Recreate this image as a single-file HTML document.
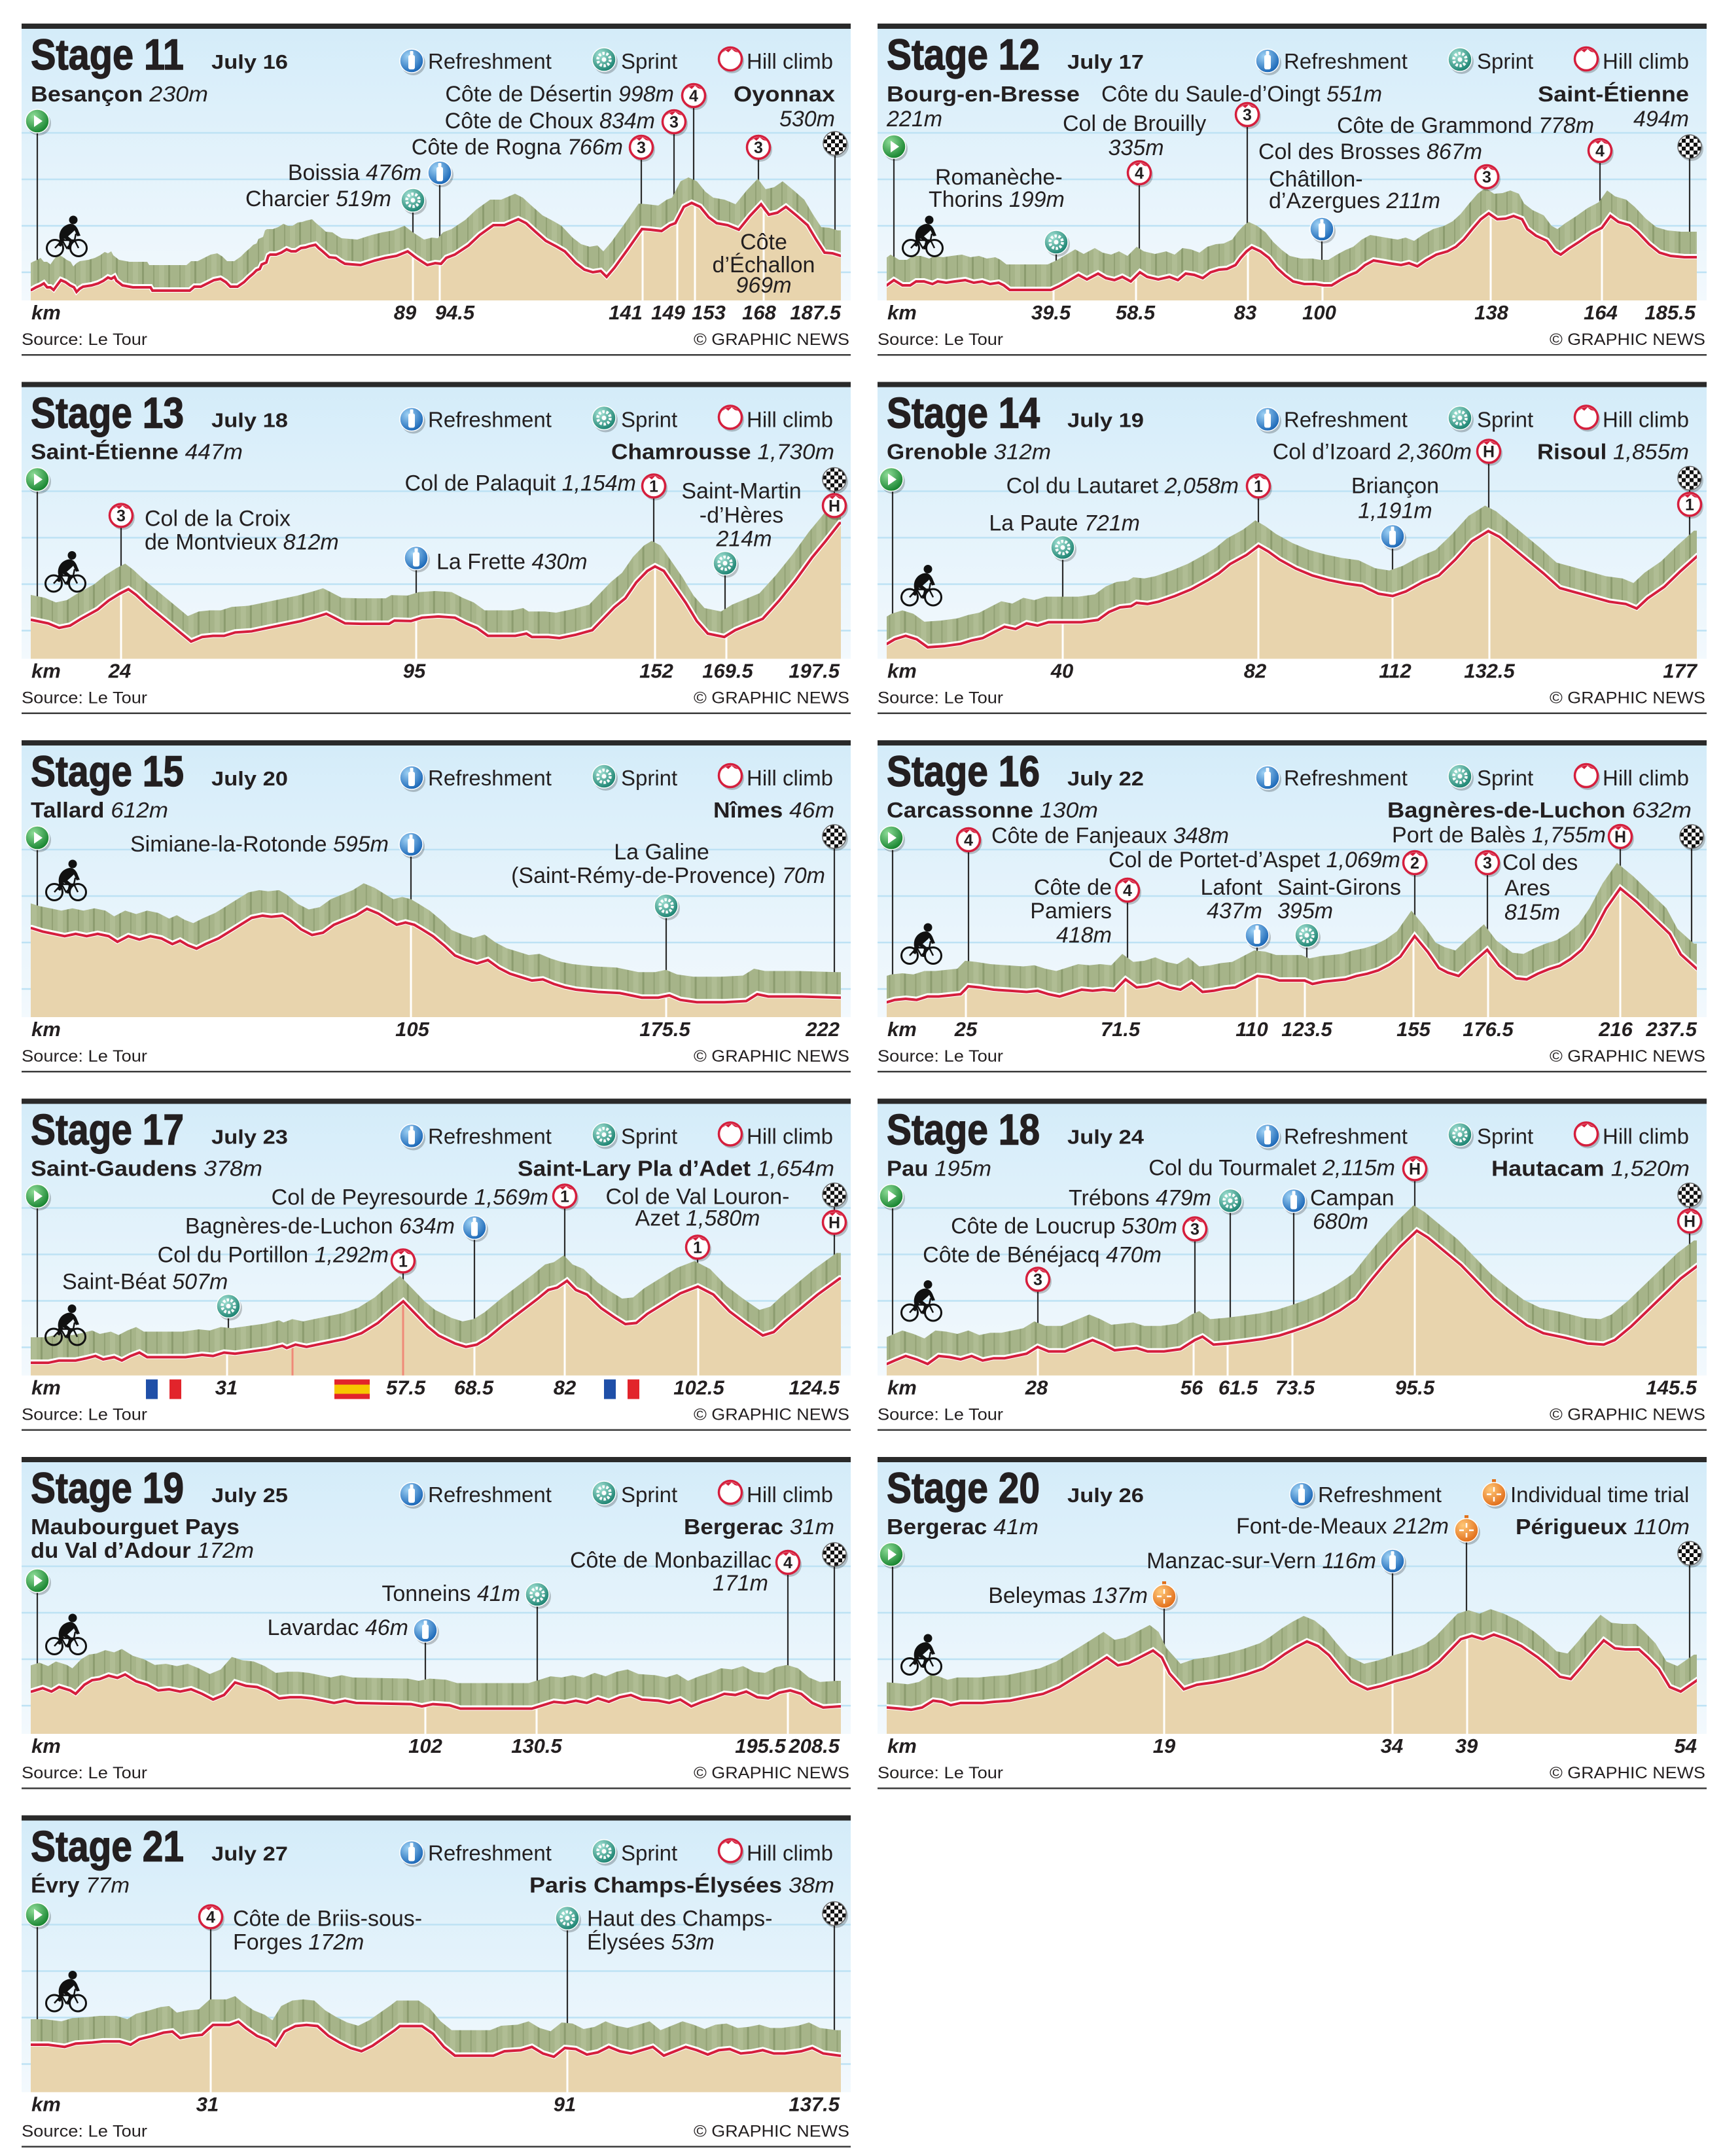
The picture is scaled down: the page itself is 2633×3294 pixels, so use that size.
<!DOCTYPE html>
<html><head><meta charset="utf-8"><title>Tour de France stages 11-21</title>
<style>
html,body{margin:0;padding:0;background:#fff;}
svg{display:block;}
text{font-family:"Liberation Sans",Arial,Helvetica,sans-serif;fill:#231f20;}
.tt{font-size:66px;font-weight:bold;stroke:#231f20;stroke-width:1.4px;}
.dt{font-size:31px;font-weight:bold;}
.lg{font-size:33px;}
.lb{font-size:34px;}
.st{font-size:33px;}
.b{font-weight:bold;}
.i{font-style:italic;}
.k{font-size:31px;font-weight:bold;font-style:italic;}
.s{font-size:25px;}
.nm{font-size:25px;font-weight:bold;text-anchor:middle;}
.e{text-anchor:end;}
.c{text-anchor:middle;}
.dl line{stroke:#2b2b2b;stroke-width:2.2px;}
.wl line{stroke:#fff;stroke-width:3px;}
.pl line{stroke:#ef8a78;stroke-width:3px;}
.ws{fill:none;stroke:#fff;stroke-width:8px;}
.rs{fill:none;stroke:#d51f3d;stroke-width:4px;}
.tan{fill:#e8d4ad;}
</style></head>
<body>
<svg xmlns="http://www.w3.org/2000/svg" xmlns:xlink="http://www.w3.org/1999/xlink" width="2633" height="3294" viewBox="0 0 2633 3294">
<defs>
<linearGradient id="bgG" x1="0" y1="0" x2="0" y2="1"><stop offset="0" stop-color="#d4ecf9"/><stop offset="1" stop-color="#f3f9fd"/></linearGradient>
<radialGradient id="gBlue" cx="35%" cy="30%" r="75%"><stop offset="0" stop-color="#9fd2f5"/><stop offset="1" stop-color="#1462b4"/></radialGradient>
<radialGradient id="gGreen" cx="35%" cy="30%" r="75%"><stop offset="0" stop-color="#8fdc98"/><stop offset="1" stop-color="#11802a"/></radialGradient>
<radialGradient id="gTeal" cx="35%" cy="30%" r="75%"><stop offset="0" stop-color="#a6e3d6"/><stop offset="1" stop-color="#167f6d"/></radialGradient>
<radialGradient id="gOr" cx="35%" cy="30%" r="75%"><stop offset="0" stop-color="#ffc878"/><stop offset="1" stop-color="#e06a16"/></radialGradient>
<pattern id="chk" width="12" height="12" patternUnits="userSpaceOnUse"><rect width="12" height="12" fill="#fff"/><rect width="6" height="6" fill="#111"/><rect x="6" y="6" width="6" height="6" fill="#111"/></pattern>
<pattern id="gp" width="40" height="60" patternUnits="userSpaceOnUse">
<rect width="40" height="60" fill="#a6b489"/><rect x="6" width="2" height="60" fill="#93a276"/><rect x="15" width="8" height="60" fill="#b0bd94"/><rect x="29" width="3" height="60" fill="#8c9c6f"/>
</pattern>
<pattern id="gp2" width="40" height="60" patternUnits="userSpaceOnUse" patternTransform="scale(0.595,1)">
<rect width="40" height="60" fill="#a6b489"/><rect x="6" width="2" height="60" fill="#93a276"/><rect x="15" width="8" height="60" fill="#b0bd94"/><rect x="29" width="3" height="60" fill="#8c9c6f"/>
</pattern>
<clipPath id="ct"><rect x="14" y="0" width="1238" height="423"/></clipPath>

<g id="chrome">
<rect x="0" y="8" width="1267" height="415" fill="url(#bgG)"/>
<rect x="0" y="0" width="1267" height="8" fill="#2a2a2a"/>
<g stroke="#bde2f4" stroke-width="2.5"><line x1="0" x2="1267" y1="167" y2="167"/><line x1="0" x2="1267" y1="238" y2="238"/><line x1="0" x2="1267" y1="309" y2="309"/><line x1="0" x2="1267" y1="380" y2="380"/></g>
<rect x="0" y="505" width="1267" height="2.5" fill="#3c3c3c"/>
</g>

<g id="ir"><circle cx="2.5" cy="3.5" r="18.5" fill="#000" opacity=".22"/><circle r="18" fill="url(#gBlue)" stroke="#fff" stroke-width="1.5"/><rect x="-5" y="-9" width="10" height="22" rx="3" fill="#fff"/><rect x="-2.5" y="-15" width="5" height="6" rx="1" fill="#fff"/></g>
<g id="is"><circle cx="2.5" cy="3.5" r="18.5" fill="#000" opacity=".22"/><circle r="18" fill="url(#gTeal)" stroke="#fff" stroke-width="1.5"/><circle r="9.5" fill="none" stroke="#fff" stroke-width="4.5" stroke-dasharray="3.5 2.5"/><circle r="3.5" fill="#fff"/></g>
<g id="ih"><circle cx="2.5" cy="3.5" r="18.5" fill="#000" opacity=".22"/><circle r="17.5" fill="#fff" stroke="#d51f3d" stroke-width="3.5"/><path d="M-12,-9.8 L-7,-13 L-3,-10 L2,-15 L7,-11 L12,-9.8 A15.5,15.5 0 0 0 -12,-9.8 Z" fill="#d51f3d"/></g>
<g id="ist"><circle cx="2.5" cy="3.5" r="18.5" fill="#000" opacity=".22"/><circle r="18" fill="url(#gGreen)" stroke="#fff" stroke-width="1.5"/><path d="M-5,-9 L8,0 L-5,9 Z" fill="#fff"/></g>
<g id="ifi"><circle cx="2.5" cy="3.5" r="18.5" fill="#000" opacity=".22"/><circle r="18" fill="url(#chk)" stroke="#666" stroke-width="1.5"/></g>
<g id="it"><circle cx="2.5" cy="3.5" r="18.5" fill="#000" opacity=".22"/><rect x="-3" y="-23" width="6" height="7" fill="#e0701a"/><circle r="18" fill="url(#gOr)" stroke="#fff" stroke-width="1.5"/><path d="M-11,0 H-4 M4,0 H11 M0,-11 V-4 M0,4 V11" stroke="#fff" stroke-width="2.5"/></g>

<g id="cyc">
<circle cx="14" cy="50" r="12.5" fill="none" stroke="#111" stroke-width="3"/>
<circle cx="50" cy="50" r="12.5" fill="none" stroke="#111" stroke-width="3"/>
<path d="M14,50 L25,38 L44,38 L50,50 M25,38 L32,50 L44,38 M44,38 L46,28" stroke="#111" stroke-width="2.5" fill="none"/>
<circle cx="42" cy="7" r="6.5" fill="#111"/>
<path d="M21,36 C19,24 27,14 38,13 C44,13 48,18 50,24 L53,31 L48,32 L44,23 C40,27 35,31 31,35 Z" fill="#111"/>
<path d="M23,32 L36,40 L33,52 L37,52 L41,38 L29,28 Z" fill="#111"/>
<path d="M22,33 L19,46 L23,48 L29,36 Z" fill="#111"/>
</g>

<path id="p11" vector-effect="non-scaling-stroke" d="M8,406 L15,406 L22,402 L29,399 L34,396 L39,402 L44,402 L49,406 L54,399 L60,391 L67,394 L74,399 L80,402 L84,409 L89,404 L94,401 L107,399 L117,396 L125,392 L132,387 L137,389 L142,386 L145,392 L154,399 L170,402 L197,402 L200,407 L257,407 L264,401 L274,401 L284,396 L294,391 L304,389 L312,394 L319,401 L330,401 L340,394 L347,387 L354,381 L359,376 L364,374 L367,367 L374,364 L377,354 L380,352 L389,352 L397,349 L405,344 L412,347 L419,347 L427,342 L434,341 L440,339 L449,337 L454,342 L460,347 L470,356 L480,357 L487,362 L494,366 L518,368 L540,361 L556,357 L573,354 L590,347 L603,357 L620,368 L632,365 L641,366 L649,357 L662,352 L683,338 L700,322 L721,307 L738,307 L759,298 L771,304 L784,316 L801,331 L818,340 L830,347 L847,365 L860,375 L873,379 L885,377 L894,386 L906,372 L927,343 L948,313 L961,314 L978,316 L991,307 L999,304 L1012,279 L1024,273 L1037,279 L1050,295 L1062,304 L1079,307 L1096,314 L1113,293 L1130,275 L1142,291 L1155,288 L1168,279 L1185,293 L1201,307 L1214,329 L1227,349 L1239,350 L1252,354 L1262,354 L1262,470 L8,470 Z"/>
<path id="p12" vector-effect="non-scaling-stroke" d="M8,399 L14,399 L25,391 L38,399 L50,399 L59,393 L71,393 L84,397 L92,393 L105,395 L118,393 L134,391 L147,395 L160,393 L172,397 L185,395 L193,399 L202,406 L265,406 L278,400 L290,393 L307,383 L320,390 L337,381 L349,388 L362,391 L374,386 L387,393 L401,379 L412,386 L429,390 L446,386 L459,391 L471,381 L484,383 L497,388 L509,379 L522,375 L534,374 L547,368 L555,357 L564,347 L572,341 L585,347 L598,357 L610,372 L623,384 L635,393 L652,397 L669,397 L682,399 L694,399 L707,391 L720,384 L732,379 L745,368 L758,361 L770,363 L787,366 L800,368 L812,365 L825,370 L838,361 L854,352 L871,347 L884,340 L896,329 L909,313 L922,298 L934,289 L947,298 L960,297 L972,293 L985,298 L993,313 L1006,323 L1023,331 L1035,347 L1044,352 L1056,343 L1073,332 L1090,320 L1107,311 L1120,293 L1132,302 L1149,307 L1162,318 L1179,336 L1195,349 L1212,354 L1233,356 L1250,356 L1262,356 L1262,470 L8,470 Z"/>
<path id="p13" vector-effect="non-scaling-stroke" transform="matrix(1.68,0,0,0.348,-35,-1)" d="M20,1045 L30,1045 L45,1060 L55,1080 L65,1070 L75,1040 L90,1000 L100,960 L110,930 L118,910 L125,935 L135,980 L150,1040 L165,1100 L175,1140 L185,1120 L195,1115 L205,1115 L215,1100 L230,1095 L245,1080 L260,1065 L275,1050 L290,1030 L298,1018 L305,1035 L315,1060 L330,1062 L355,1062 L360,1048 L375,1050 L385,1035 L400,1030 L415,1035 L425,1060 L435,1080 L445,1115 L460,1115 L470,1115 L480,1105 L485,1120 L500,1120 L510,1125 L525,1110 L540,1090 L548,1050 L560,990 L570,950 L580,880 L590,830 L597,810 L605,830 L615,900 L625,970 L635,1050 L645,1105 L660,1120 L670,1090 L685,1060 L695,1040 L710,960 L725,870 L740,770 L752,700 L765,620 L780,620 L780,1400 L20,1400 Z"/>
<path id="p14" vector-effect="non-scaling-stroke" transform="matrix(1.68,0,0,0.348,-1343,-1)" d="M798,1150 L808,1150 L815,1130 L825,1115 L835,1130 L845,1165 L860,1160 L875,1150 L885,1135 L895,1125 L905,1100 L915,1075 L925,1085 L935,1060 L945,1070 L955,1055 L965,1055 L985,1055 L1000,1045 L1010,1010 L1020,990 L1030,985 L1035,970 L1045,975 L1055,965 L1070,940 L1085,910 L1100,870 L1110,840 L1120,800 L1135,760 L1146,720 L1155,745 L1165,780 L1180,820 L1195,850 L1210,870 L1225,885 L1240,895 L1255,930 L1268,940 L1280,920 L1295,880 L1310,850 L1325,780 L1340,700 L1355,655 L1365,680 L1375,720 L1390,780 L1405,840 L1420,905 L1435,925 L1450,945 L1465,965 L1480,975 L1490,995 L1500,950 L1515,900 L1530,830 L1545,765 L1560,765 L1560,1400 L798,1400 Z"/>
<path id="p15" vector-effect="non-scaling-stroke" transform="matrix(1.68,0,0,0.348,-35,-1)" d="M20,825 L30,825 L40,840 L50,850 L60,860 L70,850 L80,860 L90,850 L100,860 L108,885 L118,860 L128,875 L138,860 L148,870 L158,895 L165,880 L172,900 L180,915 L188,895 L200,870 L210,840 L220,810 L230,780 L240,770 L248,775 L258,770 L265,790 L275,830 L285,855 L295,845 L305,810 L315,790 L325,770 L335,740 L345,760 L355,790 L362,810 L370,800 L378,810 L385,830 L395,860 L405,900 L415,945 L425,965 L435,980 L445,965 L455,1000 L465,1025 L475,1040 L485,1055 L495,1050 L505,1070 L515,1085 L525,1095 L545,1105 L565,1110 L575,1120 L585,1130 L600,1130 L610,1120 L620,1140 L635,1150 L660,1150 L680,1145 L690,1115 L700,1125 L730,1125 L765,1130 L780,1130 L780,1400 L20,1400 Z"/>
<path id="p16" vector-effect="non-scaling-stroke" transform="matrix(1.68,0,0,0.348,-1343,-1)" d="M798,1150 L808,1150 L815,1140 L825,1135 L835,1140 L845,1125 L855,1125 L865,1120 L875,1115 L882,1080 L892,1085 L905,1095 L920,1100 L935,1105 L945,1100 L955,1115 L965,1125 L975,1110 L985,1095 L995,1100 L1005,1095 L1015,1100 L1025,1050 L1035,1085 L1045,1080 L1055,1065 L1065,1085 L1075,1095 L1085,1065 L1095,1105 L1105,1100 L1115,1090 L1125,1085 L1135,1060 L1145,1035 L1155,1040 L1165,1055 L1175,1055 L1188,1055 L1195,1070 L1205,1060 L1215,1055 L1225,1050 L1235,1035 L1245,1025 L1255,1010 L1265,985 L1275,950 L1288,860 L1300,930 L1310,1000 L1318,1020 L1328,1035 L1340,980 L1354,920 L1365,990 L1380,1045 L1390,1050 L1400,1025 L1410,1005 L1420,990 L1430,960 L1440,920 L1450,850 L1462,740 L1475,650 L1490,710 L1505,780 L1520,850 L1530,940 L1545,1005 L1560,1005 L1560,1400 L798,1400 Z"/>
<path id="p17" vector-effect="non-scaling-stroke" transform="matrix(1.68,0,0,0.348,-35,-1)" d="M20,1160 L30,1160 L45,1160 L55,1150 L70,1150 L80,1140 L88,1130 L95,1145 L105,1135 L112,1150 L120,1130 L128,1115 L135,1135 L150,1135 L170,1135 L185,1125 L195,1130 L205,1115 L215,1120 L230,1110 L245,1100 L258,1085 L262,1095 L270,1080 L280,1090 L290,1080 L300,1070 L315,1055 L330,1030 L345,985 L358,930 L368,890 L378,940 L390,1000 L400,1040 L415,1075 L425,1090 L435,1080 L445,1050 L460,990 L475,935 L490,880 L500,840 L508,830 L517,800 L525,840 L535,860 L548,920 L560,960 L570,990 L580,985 L590,945 L605,900 L620,855 L636,825 L650,860 L665,935 L680,990 L695,1040 L705,1025 L715,980 L730,920 L745,860 L765,790 L780,790 L780,1400 L20,1400 Z"/>
<path id="p18" vector-effect="non-scaling-stroke" transform="matrix(1.68,0,0,0.348,-1343,-1)" d="M798,1165 L808,1165 L815,1150 L825,1130 L835,1145 L845,1165 L855,1130 L865,1135 L875,1145 L885,1130 L895,1150 L905,1140 L915,1140 L925,1130 L935,1120 L945,1090 L955,1110 L970,1110 L985,1080 L995,1060 L1005,1080 L1015,1105 L1025,1100 L1035,1095 L1045,1110 L1060,1110 L1075,1100 L1088,1060 L1095,1045 L1105,1080 L1118,1075 L1135,1065 L1150,1055 L1165,1040 L1178,1020 L1190,1000 L1205,970 L1220,930 L1235,880 L1248,800 L1260,730 L1275,650 L1290,580 L1300,610 L1310,650 L1320,690 L1330,730 L1340,780 L1350,830 L1360,880 L1375,940 L1390,995 L1405,1030 L1425,1050 L1445,1075 L1460,1080 L1470,1060 L1485,1000 L1500,930 L1515,860 L1530,790 L1545,735 L1560,735 L1560,1400 L798,1400 Z"/>
<path id="p19" vector-effect="non-scaling-stroke" transform="matrix(1.68,0,0,0.348,-35,-1)" d="M20,1030 L30,1030 L40,1015 L48,1030 L55,1010 L65,1025 L70,1040 L78,1000 L85,980 L92,975 L100,960 L108,970 L115,955 L125,985 L135,1000 L145,1025 L155,1020 L165,1030 L175,1020 L185,1040 L195,1065 L205,1045 L215,990 L225,1005 L235,1010 L245,1030 L255,1060 L265,1055 L275,1055 L285,1060 L295,1070 L305,1080 L315,1070 L325,1080 L375,1085 L385,1095 L395,1085 L410,1090 L420,1105 L485,1105 L495,1090 L505,1075 L515,1080 L525,1070 L535,1080 L545,1060 L555,1075 L565,1055 L575,1045 L585,1065 L600,1070 L610,1080 L620,1065 L630,1095 L640,1075 L650,1060 L660,1040 L670,1045 L680,1030 L690,1055 L700,1060 L710,1035 L720,1025 L730,1040 L740,1080 L750,1100 L765,1095 L780,1095 L780,1400 L20,1400 Z"/>
<path id="p20" vector-effect="non-scaling-stroke" transform="matrix(1.68,0,0,0.348,-1343,-1)" d="M798,1100 L808,1100 L820,1105 L830,1110 L840,1100 L850,1070 L858,1075 L866,1090 L875,1080 L895,1080 L905,1075 L920,1070 L935,1055 L950,1040 L965,1010 L975,980 L985,950 L995,920 L1008,880 L1018,915 L1028,905 L1038,880 L1050,850 L1058,880 L1065,950 L1078,1020 L1090,1000 L1105,990 L1120,975 L1135,955 L1150,930 L1160,900 L1170,865 L1180,835 L1190,810 L1200,830 L1210,870 L1220,930 L1230,985 L1245,1020 L1258,1005 L1270,985 L1285,965 L1300,935 L1310,900 L1320,850 L1330,800 L1340,785 L1350,800 L1360,780 L1372,800 L1385,830 L1400,880 L1410,920 L1420,965 L1430,975 L1440,920 L1450,860 L1460,805 L1470,840 L1480,845 L1492,845 L1500,880 L1510,930 L1520,1010 L1530,1030 L1545,980 L1560,980 L1560,1400 L798,1400 Z"/>
<path id="p21" vector-effect="non-scaling-stroke" transform="matrix(1.68,0,0,0.3352,-35,-2.5)" d="M20,1050 L30,1050 L45,1050 L60,1060 L70,1045 L85,1040 L95,1035 L110,1035 L120,1050 L128,1025 L140,1010 L150,995 L158,990 L165,1020 L175,1010 L185,1005 L195,960 L210,960 L218,945 L225,975 L235,1010 L245,1030 L252,1055 L260,990 L270,965 L280,960 L290,965 L300,1010 L310,1040 L320,1065 L330,1080 L340,1055 L350,1020 L360,985 L365,965 L385,965 L395,1000 L405,1060 L415,1100 L450,1100 L460,1080 L475,1075 L485,1060 L495,1090 L505,1105 L515,1065 L525,1070 L535,1095 L545,1085 L555,1060 L565,1080 L575,1090 L585,1075 L595,1060 L605,1100 L615,1080 L625,1060 L635,1075 L645,1095 L655,1075 L665,1070 L675,1090 L685,1085 L695,1075 L705,1090 L715,1090 L730,1080 L740,1065 L750,1090 L765,1100 L780,1100 L780,1400 L20,1400 Z"/>

<clipPath id="k11"><use href="#p11"/></clipPath>
<clipPath id="k12"><use href="#p12"/></clipPath>
<clipPath id="k13"><use href="#p13"/></clipPath>
<clipPath id="k14"><use href="#p14"/></clipPath>
<clipPath id="k15"><use href="#p15"/></clipPath>
<clipPath id="k16"><use href="#p16"/></clipPath>
<clipPath id="k17"><use href="#p17"/></clipPath>
<clipPath id="k18"><use href="#p18"/></clipPath>
<clipPath id="k19"><use href="#p19"/></clipPath>
<clipPath id="k20"><use href="#p20"/></clipPath>
<clipPath id="k21"><use href="#p21"/></clipPath>
</defs>

<rect width="2633" height="3294" fill="#fff"/>

<!-- ================= STAGE 11 ================= -->
<g transform="translate(33,36)">
<use href="#chrome"/>
<g class="dl"><line x1="24" y1="149" x2="24" y2="423"/><line x1="598" y1="270" x2="598" y2="423"/><line x1="639" y1="228" x2="639" y2="423"/><line x1="947" y1="189" x2="947" y2="423"/><line x1="997" y1="150" x2="997" y2="423"/><line x1="1027" y1="110" x2="1027" y2="423"/><line x1="1126" y1="189" x2="1126" y2="423"/><line x1="1243" y1="183" x2="1243" y2="423"/></g>
<g clip-path="url(#ct)">
<use href="#p11" transform="translate(-5,-38)" fill="url(#gp)"/>
<use href="#p11" class="tan"/>
<g clip-path="url(#k11)" class="wl"><line x1="598" y1="150" x2="598" y2="423"/><line x1="639" y1="150" x2="639" y2="423"/><line x1="949" y1="150" x2="949" y2="423"/><line x1="1002" y1="150" x2="1002" y2="423"/><line x1="1029" y1="150" x2="1029" y2="423"/><line x1="1134" y1="150" x2="1134" y2="423"/></g>
<use href="#p11" class="ws"/>
<use href="#p11" class="rs" transform="translate(0,1)"/>
</g>
<text class="tt" x="14" y="70" textLength="234" lengthAdjust="spacingAndGlyphs">Stage 11</text>
<text class="dt" x="290" y="69" textLength="117" lengthAdjust="spacingAndGlyphs">July 16</text>
<use href="#ir" x="596" y="57"/><text class="lg" x="621" y="69">Refreshment</text>
<use href="#is" x="890" y="55"/><text class="lg" x="916" y="69">Sprint</text>
<use href="#ih" x="1083" y="54"/><text class="lg" x="1108" y="69">Hill climb</text>
<text class="st" x="14" y="119" textLength="271" lengthAdjust="spacingAndGlyphs"><tspan class="b">Besançon</tspan> <tspan class="i">230m</tspan></text>
<text class="st b e" x="1243" y="119" textLength="155" lengthAdjust="spacingAndGlyphs">Oyonnax</text>
<text class="lb i e" x="1243" y="157">530m</text>
<text class="lb e" x="997" y="119">Côte de Désertin <tspan class="i">998m</tspan></text>
<text class="lb e" x="968" y="160">Côte de Choux <tspan class="i">834m</tspan></text>
<text class="lb e" x="919" y="200">Côte de Rogna <tspan class="i">766m</tspan></text>
<text class="lb e" x="611" y="239">Boissia <tspan class="i">476m</tspan></text>
<text class="lb e" x="565" y="279">Charcier <tspan class="i">519m</tspan></text>
<text class="lb c" x="1134" y="345">Côte</text>
<text class="lb c" x="1134" y="380">d’Échallon</text>
<text class="lb c i" x="1134" y="411">969m</text>
<use href="#ist" x="24" y="149"/>
<use href="#ifi" x="1243" y="183"/>
<use href="#ih" x="1027" y="110"/><text class="nm" x="1027" y="119">4</text>
<use href="#ih" x="997" y="150"/><text class="nm" x="997" y="159">3</text>
<use href="#ih" x="947" y="189"/><text class="nm" x="947" y="198">3</text>
<use href="#ih" x="1126" y="189"/><text class="nm" x="1126" y="198">3</text>
<use href="#ir" x="639" y="228"/>
<use href="#is" x="598" y="270"/>
<use href="#cyc" x="37" y="293"/>
<text class="k" x="15" y="452">km</text>
<text class="k c" x="586" y="452">89</text><text class="k c" x="662" y="452">94.5</text><text class="k c" x="923" y="452">141</text><text class="k c" x="988" y="452">149</text><text class="k c" x="1050" y="452">153</text><text class="k c" x="1127" y="452">168</text>
<text class="k e" x="1252" y="452">187.5</text>
<text class="s" x="0" y="491" textLength="192" lengthAdjust="spacingAndGlyphs">Source: Le Tour</text>
<text class="s e" x="1265" y="491" textLength="238" lengthAdjust="spacingAndGlyphs">© GRAPHIC NEWS</text>
</g>

<!-- ================= STAGE 12 ================= -->
<g transform="translate(1341,36)">
<use href="#chrome"/>
<g class="dl"><line x1="25" y1="188" x2="25" y2="423"/><line x1="273" y1="334" x2="273" y2="423"/><line x1="400" y1="228" x2="400" y2="423"/><line x1="565" y1="139" x2="565" y2="423"/><line x1="679" y1="314" x2="679" y2="423"/><line x1="931" y1="234" x2="931" y2="423"/><line x1="1104" y1="194" x2="1104" y2="423"/><line x1="1241" y1="188" x2="1241" y2="423"/></g>
<g clip-path="url(#ct)">
<use href="#p12" transform="translate(-5,-38)" fill="url(#gp)"/>
<use href="#p12" class="tan"/>
<g clip-path="url(#k12)" class="wl"><line x1="269" y1="150" x2="269" y2="423"/><line x1="395" y1="150" x2="395" y2="423"/><line x1="566" y1="150" x2="566" y2="423"/><line x1="680" y1="150" x2="680" y2="423"/><line x1="937" y1="150" x2="937" y2="423"/><line x1="1107" y1="150" x2="1107" y2="423"/></g>
<use href="#p12" class="ws"/>
<use href="#p12" class="rs" transform="translate(0,1)"/>
</g>
<text class="tt" x="14" y="70" textLength="234" lengthAdjust="spacingAndGlyphs">Stage 12</text>
<text class="dt" x="290" y="69" textLength="117" lengthAdjust="spacingAndGlyphs">July 17</text>
<use href="#ir" x="596" y="57"/><text class="lg" x="621" y="69">Refreshment</text>
<use href="#is" x="890" y="55"/><text class="lg" x="916" y="69">Sprint</text>
<use href="#ih" x="1083" y="54"/><text class="lg" x="1108" y="69">Hill climb</text>
<text class="st b" x="14" y="119" textLength="295" lengthAdjust="spacingAndGlyphs">Bourg-en-Bresse</text>
<text class="lb i" x="14" y="157">221m</text>
<text class="lb" x="342" y="119">Côte du Saule-d’Oingt <tspan class="i">551m</tspan></text>
<text class="st b e" x="1240" y="119" textLength="231" lengthAdjust="spacingAndGlyphs">Saint-Étienne</text>
<text class="lb i e" x="1240" y="157">494m</text>
<text class="lb" x="283" y="164">Col de Brouilly</text>
<text class="lb i c" x="395" y="201">335m</text>
<text class="lb" x="88" y="246">Romanèche-</text>
<text class="lb" x="78" y="280">Thorins <tspan class="i">199m</tspan></text>
<text class="lb" x="702" y="167">Côte de Grammond <tspan class="i">778m</tspan></text>
<text class="lb" x="582" y="207">Col des Brosses <tspan class="i">867m</tspan></text>
<text class="lb" x="598" y="249">Châtillon-</text>
<text class="lb" x="598" y="282">d’Azergues <tspan class="i">211m</tspan></text>
<use href="#ist" x="25" y="188"/>
<use href="#ifi" x="1241" y="188"/>
<use href="#is" x="273" y="334"/>
<use href="#ih" x="400" y="228"/><text class="nm" x="400" y="237">4</text>
<use href="#ih" x="565" y="139"/><text class="nm" x="565" y="148">3</text>
<use href="#ir" x="679" y="314"/>
<use href="#ih" x="931" y="234"/><text class="nm" x="931" y="243">3</text>
<use href="#ih" x="1104" y="194"/><text class="nm" x="1104" y="203">4</text>
<use href="#cyc" x="37" y="293"/>
<text class="k" x="15" y="452">km</text>
<text class="k c" x="265" y="452">39.5</text><text class="k c" x="394" y="452">58.5</text><text class="k c" x="562" y="452">83</text><text class="k c" x="675" y="452">100</text><text class="k c" x="938" y="452">138</text><text class="k c" x="1105" y="452">164</text>
<text class="k e" x="1250" y="452">185.5</text>
<text class="s" x="0" y="491" textLength="192" lengthAdjust="spacingAndGlyphs">Source: Le Tour</text>
<text class="s e" x="1265" y="491" textLength="238" lengthAdjust="spacingAndGlyphs">© GRAPHIC NEWS</text>
</g>

<!-- ================= STAGE 13 ================= -->
<g transform="translate(33,583.5)">
<use href="#chrome"/>
<g class="dl"><line x1="24" y1="149" x2="24" y2="423"/><line x1="152" y1="204" x2="152" y2="423"/><line x1="603" y1="269" x2="603" y2="423"/><line x1="966" y1="159" x2="966" y2="423"/><line x1="1075" y1="277" x2="1075" y2="423"/><line x1="1242" y1="149" x2="1242" y2="423"/></g>
<g clip-path="url(#ct)">
<use href="#p13" transform="translate(-5,-38)" fill="url(#gp2)"/>
<use href="#p13" class="tan"/>
<g clip-path="url(#k13)" class="wl"><line x1="152" y1="150" x2="152" y2="423"/><line x1="603" y1="150" x2="603" y2="423"/><line x1="968" y1="150" x2="968" y2="423"/><line x1="1077" y1="150" x2="1077" y2="423"/></g>
<use href="#p13" class="ws"/>
<use href="#p13" class="rs" transform="translate(0,1)"/>
</g>
<text class="tt" x="14" y="70" textLength="234" lengthAdjust="spacingAndGlyphs">Stage 13</text>
<text class="dt" x="290" y="69" textLength="117" lengthAdjust="spacingAndGlyphs">July 18</text>
<use href="#ir" x="596" y="57"/><text class="lg" x="621" y="69">Refreshment</text>
<use href="#is" x="890" y="55"/><text class="lg" x="916" y="69">Sprint</text>
<use href="#ih" x="1083" y="54"/><text class="lg" x="1108" y="69">Hill climb</text>
<text class="st" x="14" y="118" textLength="324" lengthAdjust="spacingAndGlyphs"><tspan class="b">Saint-Étienne</tspan> <tspan class="i">447m</tspan></text>
<text class="st e" x="1242" y="118" textLength="341" lengthAdjust="spacingAndGlyphs"><tspan class="b">Chamrousse</tspan> <tspan class="i">1,730m</tspan></text>
<text class="lb e" x="939" y="166">Col de Palaquit <tspan class="i">1,154m</tspan></text>
<text class="lb c" x="1100" y="178">Saint-Martin</text>
<text class="lb c" x="1100" y="215">-d’Hères</text>
<text class="lb c i" x="1104" y="251">214m</text>
<text class="lb" x="188" y="220">Col de la Croix</text>
<text class="lb" x="188" y="256">de Montvieux <tspan class="i">812m</tspan></text>
<text class="lb" x="634" y="286">La Frette <tspan class="i">430m</tspan></text>
<use href="#ist" x="24" y="149"/>
<use href="#ifi" x="1242" y="149"/>
<use href="#ih" x="1242" y="189"/><text class="nm" x="1242" y="198">H</text>
<use href="#ih" x="966" y="159"/><text class="nm" x="966" y="168">1</text>
<use href="#is" x="1075" y="277"/>
<use href="#ih" x="152" y="204"/><text class="nm" x="152" y="213">3</text>
<use href="#ir" x="603" y="269"/>
<use href="#cyc" x="35" y="258"/>
<text class="k" x="15" y="452">km</text>
<text class="k c" x="150" y="452">24</text><text class="k c" x="600" y="452">95</text><text class="k c" x="970" y="452">152</text><text class="k c" x="1079" y="452">169.5</text>
<text class="k e" x="1250" y="452">197.5</text>
<text class="s" x="0" y="491" textLength="192" lengthAdjust="spacingAndGlyphs">Source: Le Tour</text>
<text class="s e" x="1265" y="491" textLength="238" lengthAdjust="spacingAndGlyphs">© GRAPHIC NEWS</text>
</g>

<!-- ================= STAGE 14 ================= -->
<g transform="translate(1341,583.5)">
<use href="#chrome"/>
<g class="dl"><line x1="23" y1="149" x2="23" y2="423"/><line x1="283" y1="253" x2="283" y2="423"/><line x1="582" y1="159" x2="582" y2="423"/><line x1="787" y1="236" x2="787" y2="423"/><line x1="934" y1="106" x2="934" y2="423"/><line x1="1241" y1="147" x2="1241" y2="423"/></g>
<g clip-path="url(#ct)">
<use href="#p14" transform="translate(-5,-38)" fill="url(#gp2)"/>
<use href="#p14" class="tan"/>
<g clip-path="url(#k14)" class="wl"><line x1="283" y1="150" x2="283" y2="423"/><line x1="582" y1="150" x2="582" y2="423"/><line x1="787" y1="150" x2="787" y2="423"/><line x1="935" y1="150" x2="935" y2="423"/></g>
<use href="#p14" class="ws"/>
<use href="#p14" class="rs" transform="translate(0,1)"/>
</g>
<text class="tt" x="14" y="70" textLength="234" lengthAdjust="spacingAndGlyphs">Stage 14</text>
<text class="dt" x="290" y="69" textLength="117" lengthAdjust="spacingAndGlyphs">July 19</text>
<use href="#ir" x="596" y="57"/><text class="lg" x="621" y="69">Refreshment</text>
<use href="#is" x="890" y="55"/><text class="lg" x="916" y="69">Sprint</text>
<use href="#ih" x="1083" y="54"/><text class="lg" x="1108" y="69">Hill climb</text>
<text class="st" x="14" y="118" textLength="251" lengthAdjust="spacingAndGlyphs"><tspan class="b">Grenoble</tspan> <tspan class="i">312m</tspan></text>
<text class="lb e" x="908" y="118">Col d’Izoard <tspan class="i">2,360m</tspan></text>
<text class="st e" x="1240" y="118" textLength="232" lengthAdjust="spacingAndGlyphs"><tspan class="b">Risoul</tspan> <tspan class="i">1,855m</tspan></text>
<text class="lb e" x="552" y="170">Col du Lautaret <tspan class="i">2,058m</tspan></text>
<text class="lb c" x="791" y="170">Briançon</text>
<text class="lb c i" x="791" y="208">1,191m</text>
<text class="lb e" x="401" y="227">La Paute <tspan class="i">721m</tspan></text>
<use href="#ist" x="21" y="149"/>
<use href="#ih" x="934" y="106"/><text class="nm" x="934" y="115">H</text>
<use href="#ifi" x="1241" y="147"/>
<use href="#ih" x="1241" y="187"/><text class="nm" x="1241" y="196">1</text>
<use href="#ih" x="582" y="159"/><text class="nm" x="582" y="168">1</text>
<use href="#ir" x="787" y="236"/>
<use href="#is" x="283" y="253"/>
<use href="#cyc" x="35" y="279"/>
<text class="k" x="15" y="452">km</text>
<text class="k c" x="282" y="452">40</text><text class="k c" x="577" y="452">82</text><text class="k c" x="791" y="452">112</text><text class="k c" x="935" y="452">132.5</text>
<text class="k e" x="1252" y="452">177</text>
<text class="s" x="0" y="491" textLength="192" lengthAdjust="spacingAndGlyphs">Source: Le Tour</text>
<text class="s e" x="1265" y="491" textLength="238" lengthAdjust="spacingAndGlyphs">© GRAPHIC NEWS</text>
</g>

<!-- ================= STAGE 15 ================= -->
<g transform="translate(33,1131)">
<use href="#chrome"/>
<g class="dl"><line x1="24" y1="149" x2="24" y2="423"/><line x1="595" y1="159" x2="595" y2="423"/><line x1="985" y1="253" x2="985" y2="423"/><line x1="1242" y1="147" x2="1242" y2="423"/></g>
<g clip-path="url(#ct)">
<use href="#p15" transform="translate(-5,-38)" fill="url(#gp2)"/>
<use href="#p15" class="tan"/>
<g clip-path="url(#k15)" class="wl"><line x1="595" y1="150" x2="595" y2="423"/><line x1="985" y1="150" x2="985" y2="423"/></g>
<use href="#p15" class="ws"/>
<use href="#p15" class="rs" transform="translate(0,1)"/>
</g>
<text class="tt" x="14" y="70" textLength="234" lengthAdjust="spacingAndGlyphs">Stage 15</text>
<text class="dt" x="290" y="69" textLength="117" lengthAdjust="spacingAndGlyphs">July 20</text>
<use href="#ir" x="596" y="57"/><text class="lg" x="621" y="69">Refreshment</text>
<use href="#is" x="890" y="55"/><text class="lg" x="916" y="69">Sprint</text>
<use href="#ih" x="1083" y="54"/><text class="lg" x="1108" y="69">Hill climb</text>
<text class="st" x="14" y="118" textLength="210" lengthAdjust="spacingAndGlyphs"><tspan class="b">Tallard</tspan> <tspan class="i">612m</tspan></text>
<text class="st e" x="1242" y="118" textLength="185" lengthAdjust="spacingAndGlyphs"><tspan class="b">Nîmes</tspan> <tspan class="i">46m</tspan></text>
<text class="lb e" x="561" y="170">Simiane-la-Rotonde <tspan class="i">595m</tspan></text>
<text class="lb c" x="978" y="182">La Galine</text>
<text class="lb e" x="1228" y="218">(Saint-Rémy-de-Provence) <tspan class="i">70m</tspan></text>
<use href="#ist" x="24" y="149"/>
<use href="#ifi" x="1242" y="147"/>
<use href="#ir" x="595" y="159"/>
<use href="#is" x="985" y="253"/>
<use href="#cyc" x="36" y="182"/>
<text class="k" x="15" y="452">km</text>
<text class="k c" x="597" y="452">105</text><text class="k c" x="983" y="452">175.5</text>
<text class="k e" x="1250" y="452">222</text>
<text class="s" x="0" y="491" textLength="192" lengthAdjust="spacingAndGlyphs">Source: Le Tour</text>
<text class="s e" x="1265" y="491" textLength="238" lengthAdjust="spacingAndGlyphs">© GRAPHIC NEWS</text>
</g>

<!-- ================= STAGE 16 ================= -->
<g transform="translate(1341,1131)">
<use href="#chrome"/>
<g class="dl"><line x1="23" y1="149" x2="23" y2="423"/><line x1="139" y1="152" x2="139" y2="423"/><line x1="382" y1="229" x2="382" y2="423"/><line x1="580" y1="298" x2="580" y2="423"/><line x1="656" y1="298" x2="656" y2="423"/><line x1="821" y1="187" x2="821" y2="423"/><line x1="932" y1="187" x2="932" y2="423"/><line x1="1135" y1="147" x2="1135" y2="423"/><line x1="1244" y1="147" x2="1244" y2="423"/></g>
<g clip-path="url(#ct)">
<use href="#p16" transform="translate(-5,-38)" fill="url(#gp2)"/>
<use href="#p16" class="tan"/>
<g clip-path="url(#k16)" class="wl"><line x1="135" y1="150" x2="135" y2="423"/><line x1="379" y1="150" x2="379" y2="423"/><line x1="580" y1="150" x2="580" y2="423"/><line x1="653" y1="150" x2="653" y2="423"/><line x1="819" y1="150" x2="819" y2="423"/><line x1="933" y1="150" x2="933" y2="423"/><line x1="1135" y1="150" x2="1135" y2="423"/></g>
<use href="#p16" class="ws"/>
<use href="#p16" class="rs" transform="translate(0,1)"/>
</g>
<text class="tt" x="14" y="70" textLength="234" lengthAdjust="spacingAndGlyphs">Stage 16</text>
<text class="dt" x="290" y="69" textLength="117" lengthAdjust="spacingAndGlyphs">July 22</text>
<use href="#ir" x="596" y="57"/><text class="lg" x="621" y="69">Refreshment</text>
<use href="#is" x="890" y="55"/><text class="lg" x="916" y="69">Sprint</text>
<use href="#ih" x="1083" y="54"/><text class="lg" x="1108" y="69">Hill climb</text>
<text class="st" x="14" y="118" textLength="323" lengthAdjust="spacingAndGlyphs"><tspan class="b">Carcassonne</tspan> <tspan class="i">130m</tspan></text>
<text class="st e" x="1244" y="118" textLength="465" lengthAdjust="spacingAndGlyphs"><tspan class="b">Bagnères-de-Luchon</tspan> <tspan class="i">632m</tspan></text>
<text class="lb" x="174" y="157">Côte de Fanjeaux <tspan class="i">348m</tspan></text>
<text class="lb e" x="1113" y="156">Port de Balès <tspan class="i">1,755m</tspan></text>
<text class="lb e" x="799" y="194">Col de Portet-d’Aspet <tspan class="i">1,069m</tspan></text>
<text class="lb" x="955" y="198">Col des</text>
<text class="lb" x="958" y="237">Ares</text>
<text class="lb i" x="958" y="274">815m</text>
<text class="lb e" x="358" y="236">Côte de</text>
<text class="lb e" x="358" y="272">Pamiers</text>
<text class="lb i e" x="358" y="309">418m</text>
<text class="lb e" x="588" y="236">Lafont</text>
<text class="lb i e" x="588" y="272">437m</text>
<text class="lb" x="611" y="236">Saint-Girons</text>
<text class="lb i" x="611" y="272">395m</text>
<use href="#ist" x="21" y="149"/>
<use href="#ifi" x="1244" y="147"/>
<use href="#ih" x="139" y="152"/><text class="nm" x="139" y="161">4</text>
<use href="#ih" x="1135" y="147"/><text class="nm" x="1135" y="156">H</text>
<use href="#ih" x="821" y="187"/><text class="nm" x="821" y="196">2</text>
<use href="#ih" x="932" y="187"/><text class="nm" x="932" y="196">3</text>
<use href="#ih" x="382" y="229"/><text class="nm" x="382" y="238">4</text>
<use href="#ir" x="580" y="298"/>
<use href="#is" x="656" y="298"/>
<use href="#cyc" x="35" y="279"/>
<text class="k" x="15" y="452">km</text>
<text class="k c" x="135" y="452">25</text><text class="k c" x="371" y="452">71.5</text><text class="k c" x="572" y="452">110</text><text class="k c" x="656" y="452">123.5</text><text class="k c" x="819" y="452">155</text><text class="k c" x="933" y="452">176.5</text><text class="k c" x="1128" y="452">216</text>
<text class="k e" x="1252" y="452">237.5</text>
<text class="s" x="0" y="491" textLength="192" lengthAdjust="spacingAndGlyphs">Source: Le Tour</text>
<text class="s e" x="1265" y="491" textLength="238" lengthAdjust="spacingAndGlyphs">© GRAPHIC NEWS</text>
</g>

<!-- ================= STAGE 17 ================= -->
<g transform="translate(33,1678.5)">
<use href="#chrome"/>
<g class="dl"><line x1="24" y1="149" x2="24" y2="423"/><line x1="316" y1="317" x2="316" y2="423"/><line x1="583" y1="248" x2="583" y2="423"/><line x1="692" y1="197" x2="692" y2="423"/><line x1="830" y1="149" x2="830" y2="423"/><line x1="1033" y1="227" x2="1033" y2="423"/><line x1="1242" y1="147" x2="1242" y2="423"/></g>
<g clip-path="url(#ct)">
<use href="#p17" transform="translate(-5,-38)" fill="url(#gp2)"/>
<use href="#p17" class="tan"/>
<g clip-path="url(#k17)" class="wl"><line x1="314" y1="150" x2="314" y2="423"/><line x1="692" y1="150" x2="692" y2="423"/><line x1="830" y1="150" x2="830" y2="423"/><line x1="1034" y1="150" x2="1034" y2="423"/></g>
<g clip-path="url(#k17)" class="pl"><line x1="583" y1="150" x2="583" y2="423"/><line x1="414" y1="150" x2="414" y2="423"/></g>
<use href="#p17" class="ws"/>
<use href="#p17" class="rs" transform="translate(0,1)"/>
</g>
<text class="tt" x="14" y="70" textLength="234" lengthAdjust="spacingAndGlyphs">Stage 17</text>
<text class="dt" x="290" y="69" textLength="117" lengthAdjust="spacingAndGlyphs">July 23</text>
<use href="#ir" x="596" y="57"/><text class="lg" x="621" y="69">Refreshment</text>
<use href="#is" x="890" y="55"/><text class="lg" x="916" y="69">Sprint</text>
<use href="#ih" x="1083" y="54"/><text class="lg" x="1108" y="69">Hill climb</text>
<text class="st" x="14" y="118" textLength="354" lengthAdjust="spacingAndGlyphs"><tspan class="b">Saint-Gaudens</tspan> <tspan class="i">378m</tspan></text>
<text class="st e" x="1242" y="118" textLength="484" lengthAdjust="spacingAndGlyphs"><tspan class="b">Saint-Lary Pla d’Adet</tspan> <tspan class="i">1,654m</tspan></text>
<text class="lb e" x="805" y="162">Col de Peyresourde <tspan class="i">1,569m</tspan></text>
<text class="lb c" x="1033" y="161">Col de Val Louron-</text>
<text class="lb c" x="1033" y="194">Azet <tspan class="i">1,580m</tspan></text>
<text class="lb e" x="662" y="206">Bagnères-de-Luchon <tspan class="i">634m</tspan></text>
<text class="lb e" x="561" y="250">Col du Portillon <tspan class="i">1,292m</tspan></text>
<text class="lb" x="62" y="291">Saint-Béat <tspan class="i">507m</tspan></text>
<use href="#ist" x="24" y="149"/>
<use href="#ifi" x="1242" y="147"/>
<use href="#ih" x="1242" y="189"/><text class="nm" x="1242" y="198">H</text>
<use href="#ih" x="830" y="149"/><text class="nm" x="830" y="158">1</text>
<use href="#ih" x="1033" y="227"/><text class="nm" x="1033" y="236">1</text>
<use href="#ir" x="692" y="197"/>
<use href="#ih" x="583" y="248"/><text class="nm" x="583" y="257">1</text>
<use href="#is" x="316" y="317"/>
<use href="#cyc" x="35" y="314"/>
<g><rect x="190" y="429" width="18" height="30" fill="#1f4fa8"/><rect x="208" y="429" width="18" height="30" fill="#fff"/><rect x="226" y="429" width="18" height="30" fill="#e2242b"/></g>
<g><rect x="478" y="429" width="54" height="30" fill="#e2242b"/><rect x="478" y="437" width="54" height="14" fill="#f7c600"/></g>
<g><rect x="890" y="429" width="18" height="30" fill="#1f4fa8"/><rect x="908" y="429" width="18" height="30" fill="#fff"/><rect x="926" y="429" width="18" height="30" fill="#e2242b"/></g>
<text class="k" x="15" y="452">km</text>
<text class="k c" x="313" y="452">31</text><text class="k c" x="587" y="452">57.5</text><text class="k c" x="691" y="452">68.5</text><text class="k c" x="830" y="452">82</text><text class="k c" x="1035" y="452">102.5</text>
<text class="k e" x="1250" y="452">124.5</text>
<text class="s" x="0" y="491" textLength="192" lengthAdjust="spacingAndGlyphs">Source: Le Tour</text>
<text class="s e" x="1265" y="491" textLength="238" lengthAdjust="spacingAndGlyphs">© GRAPHIC NEWS</text>
</g>

<!-- ================= STAGE 18 ================= -->
<g transform="translate(1341,1678.5)">
<use href="#chrome"/>
<g class="dl"><line x1="23" y1="149" x2="23" y2="423"/><line x1="245" y1="276" x2="245" y2="423"/><line x1="485" y1="199" x2="485" y2="423"/><line x1="539" y1="156" x2="539" y2="423"/><line x1="636" y1="156" x2="636" y2="423"/><line x1="821" y1="107" x2="821" y2="423"/><line x1="1241" y1="147" x2="1241" y2="423"/></g>
<g clip-path="url(#ct)">
<use href="#p18" transform="translate(-5,-38)" fill="url(#gp2)"/>
<use href="#p18" class="tan"/>
<g clip-path="url(#k18)" class="wl"><line x1="245" y1="150" x2="245" y2="423"/><line x1="483" y1="150" x2="483" y2="423"/><line x1="535" y1="150" x2="535" y2="423"/><line x1="634" y1="150" x2="634" y2="423"/><line x1="821" y1="150" x2="821" y2="423"/></g>
<use href="#p18" class="ws"/>
<use href="#p18" class="rs" transform="translate(0,1)"/>
</g>
<text class="tt" x="14" y="70" textLength="234" lengthAdjust="spacingAndGlyphs">Stage 18</text>
<text class="dt" x="290" y="69" textLength="117" lengthAdjust="spacingAndGlyphs">July 24</text>
<use href="#ir" x="596" y="57"/><text class="lg" x="621" y="69">Refreshment</text>
<use href="#is" x="890" y="55"/><text class="lg" x="916" y="69">Sprint</text>
<use href="#ih" x="1083" y="54"/><text class="lg" x="1108" y="69">Hill climb</text>
<text class="st" x="14" y="118" textLength="160" lengthAdjust="spacingAndGlyphs"><tspan class="b">Pau</tspan> <tspan class="i">195m</tspan></text>
<text class="lb e" x="791" y="117">Col du Tourmalet <tspan class="i">2,115m</tspan></text>
<text class="st e" x="1241" y="118" textLength="303" lengthAdjust="spacingAndGlyphs"><tspan class="b">Hautacam</tspan> <tspan class="i">1,520m</tspan></text>
<text class="lb e" x="510" y="163">Trébons <tspan class="i">479m</tspan></text>
<text class="lb" x="661" y="163">Campan</text>
<text class="lb i" x="665" y="199">680m</text>
<text class="lb e" x="458" y="206">Côte de Loucrup <tspan class="i">530m</tspan></text>
<text class="lb e" x="434" y="250">Côte de Bénéjacq <tspan class="i">470m</tspan></text>
<use href="#ist" x="21" y="149"/>
<use href="#ifi" x="1241" y="147"/>
<use href="#ih" x="1241" y="187"/><text class="nm" x="1241" y="196">H</text>
<use href="#ih" x="821" y="107"/><text class="nm" x="821" y="116">H</text>
<use href="#is" x="539" y="156"/>
<use href="#ir" x="636" y="156"/>
<use href="#ih" x="485" y="199"/><text class="nm" x="485" y="208">3</text>
<use href="#ih" x="245" y="276"/><text class="nm" x="245" y="285">3</text>
<use href="#cyc" x="35" y="277"/>
<text class="k" x="15" y="452">km</text>
<text class="k c" x="243" y="452">28</text><text class="k c" x="480" y="452">56</text><text class="k c" x="551" y="452">61.5</text><text class="k c" x="638" y="452">73.5</text><text class="k c" x="821" y="452">95.5</text>
<text class="k e" x="1252" y="452">145.5</text>
<text class="s" x="0" y="491" textLength="192" lengthAdjust="spacingAndGlyphs">Source: Le Tour</text>
<text class="s e" x="1265" y="491" textLength="238" lengthAdjust="spacingAndGlyphs">© GRAPHIC NEWS</text>
</g>

<!-- ================= STAGE 19 ================= -->
<g transform="translate(33,2226)">
<use href="#chrome"/>
<g class="dl"><line x1="24" y1="189" x2="24" y2="423"/><line x1="617" y1="265" x2="617" y2="423"/><line x1="788" y1="210" x2="788" y2="423"/><line x1="1171" y1="161" x2="1171" y2="423"/><line x1="1242" y1="149" x2="1242" y2="423"/></g>
<g clip-path="url(#ct)">
<use href="#p19" transform="translate(-5,-38)" fill="url(#gp2)"/>
<use href="#p19" class="tan"/>
<g clip-path="url(#k19)" class="wl"><line x1="617" y1="150" x2="617" y2="423"/><line x1="787" y1="150" x2="787" y2="423"/><line x1="1171" y1="150" x2="1171" y2="423"/></g>
<use href="#p19" class="ws"/>
<use href="#p19" class="rs" transform="translate(0,1)"/>
</g>
<text class="tt" x="14" y="70" textLength="234" lengthAdjust="spacingAndGlyphs">Stage 19</text>
<text class="dt" x="290" y="69" textLength="117" lengthAdjust="spacingAndGlyphs">July 25</text>
<use href="#ir" x="596" y="57"/><text class="lg" x="621" y="69">Refreshment</text>
<use href="#is" x="890" y="55"/><text class="lg" x="916" y="69">Sprint</text>
<use href="#ih" x="1083" y="54"/><text class="lg" x="1108" y="69">Hill climb</text>
<text class="st b" x="14" y="118" textLength="319" lengthAdjust="spacingAndGlyphs">Maubourguet Pays</text>
<text class="st" x="14" y="154" textLength="341" lengthAdjust="spacingAndGlyphs"><tspan class="b">du Val d’Adour</tspan> <tspan class="i">172m</tspan></text>
<text class="st e" x="1242" y="118" textLength="230" lengthAdjust="spacingAndGlyphs"><tspan class="b">Bergerac</tspan> <tspan class="i">31m</tspan></text>
<text class="lb e" x="1146" y="169">Côte de Monbazillac</text>
<text class="lb i e" x="1141" y="204">171m</text>
<text class="lb e" x="762" y="220">Tonneins <tspan class="i">41m</tspan></text>
<text class="lb e" x="591" y="272">Lavardac <tspan class="i">46m</tspan></text>
<use href="#ist" x="24" y="189"/>
<use href="#ifi" x="1242" y="149"/>
<use href="#ih" x="1171" y="161"/><text class="nm" x="1171" y="170">4</text>
<use href="#is" x="788" y="210"/>
<use href="#ir" x="617" y="265"/>
<use href="#cyc" x="36" y="239"/>
<text class="k" x="15" y="452">km</text>
<text class="k c" x="617" y="452">102</text><text class="k c" x="787" y="452">130.5</text><text class="k c" x="1129" y="452">195.5</text>
<text class="k e" x="1250" y="452">208.5</text>
<text class="s" x="0" y="491" textLength="192" lengthAdjust="spacingAndGlyphs">Source: Le Tour</text>
<text class="s e" x="1265" y="491" textLength="238" lengthAdjust="spacingAndGlyphs">© GRAPHIC NEWS</text>
</g>

<!-- ================= STAGE 20 ================= -->
<g transform="translate(1341,2226)">
<use href="#chrome"/>
<g class="dl"><line x1="23" y1="149" x2="23" y2="423"/><line x1="438" y1="213" x2="438" y2="423"/><line x1="787" y1="159" x2="787" y2="423"/><line x1="900" y1="112" x2="900" y2="423"/><line x1="1241" y1="147" x2="1241" y2="423"/></g>
<g clip-path="url(#ct)">
<use href="#p20" transform="translate(-5,-38)" fill="url(#gp2)"/>
<use href="#p20" class="tan"/>
<g clip-path="url(#k20)" class="wl"><line x1="438" y1="150" x2="438" y2="423"/><line x1="787" y1="150" x2="787" y2="423"/><line x1="901" y1="150" x2="901" y2="423"/></g>
<use href="#p20" class="ws"/>
<use href="#p20" class="rs" transform="translate(0,1)"/>
</g>
<text class="tt" x="14" y="70" textLength="234" lengthAdjust="spacingAndGlyphs">Stage 20</text>
<text class="dt" x="290" y="69" textLength="117" lengthAdjust="spacingAndGlyphs">July 26</text>
<use href="#ir" x="648" y="57"/><text class="lg" x="673" y="69">Refreshment</text>
<use href="#it" x="942" y="57"/><text class="lg" x="967" y="69">Individual time trial</text>
<text class="st" x="14" y="118" textLength="232" lengthAdjust="spacingAndGlyphs"><tspan class="b">Bergerac</tspan> <tspan class="i">41m</tspan></text>
<text class="lb e" x="873" y="117">Font-de-Meaux <tspan class="i">212m</tspan></text>
<text class="st e" x="1241" y="118" textLength="266" lengthAdjust="spacingAndGlyphs"><tspan class="b">Périgueux</tspan> <tspan class="i">110m</tspan></text>
<text class="lb e" x="762" y="170">Manzac-sur-Vern <tspan class="i">116m</tspan></text>
<text class="lb e" x="413" y="223">Beleymas <tspan class="i">137m</tspan></text>
<use href="#ist" x="21" y="149"/>
<use href="#ifi" x="1241" y="147"/>
<use href="#it" x="900" y="112"/>
<use href="#ir" x="787" y="159"/>
<use href="#it" x="438" y="213"/>
<use href="#cyc" x="35" y="270"/>
<text class="k" x="15" y="452">km</text>
<text class="k c" x="438" y="452">19</text><text class="k c" x="786" y="452">34</text><text class="k c" x="900" y="452">39</text>
<text class="k e" x="1252" y="452">54</text>
<text class="s" x="0" y="491" textLength="192" lengthAdjust="spacingAndGlyphs">Source: Le Tour</text>
<text class="s e" x="1265" y="491" textLength="238" lengthAdjust="spacingAndGlyphs">© GRAPHIC NEWS</text>
</g>

<!-- ================= STAGE 21 ================= -->
<g transform="translate(33,2773.5)">
<use href="#chrome"/>
<g class="dl"><line x1="24" y1="152" x2="24" y2="423"/><line x1="289" y1="155" x2="289" y2="423"/><line x1="834" y1="157" x2="834" y2="423"/><line x1="1242" y1="150" x2="1242" y2="423"/></g>
<g clip-path="url(#ct)">
<use href="#p21" transform="translate(-5,-38)" fill="url(#gp2)"/>
<use href="#p21" class="tan"/>
<g clip-path="url(#k21)" class="wl"><line x1="289" y1="150" x2="289" y2="423"/><line x1="834" y1="150" x2="834" y2="423"/></g>
<use href="#p21" class="ws"/>
<use href="#p21" class="rs" transform="translate(0,1)"/>
</g>
<text class="tt" x="14" y="70" textLength="234" lengthAdjust="spacingAndGlyphs">Stage 21</text>
<text class="dt" x="290" y="69" textLength="117" lengthAdjust="spacingAndGlyphs">July 27</text>
<use href="#ir" x="596" y="57"/><text class="lg" x="621" y="69">Refreshment</text>
<use href="#is" x="890" y="55"/><text class="lg" x="916" y="69">Sprint</text>
<use href="#ih" x="1083" y="54"/><text class="lg" x="1108" y="69">Hill climb</text>
<text class="st" x="14" y="118" textLength="151" lengthAdjust="spacingAndGlyphs"><tspan class="b">Évry</tspan> <tspan class="i">77m</tspan></text>
<text class="st e" x="1242" y="118" textLength="466" lengthAdjust="spacingAndGlyphs"><tspan class="b">Paris Champs-Élysées</tspan> <tspan class="i">38m</tspan></text>
<text class="lb" x="323" y="169">Côte de Briis-sous-</text>
<text class="lb" x="323" y="205">Forges <tspan class="i">172m</tspan></text>
<text class="lb" x="864" y="169">Haut des Champs-</text>
<text class="lb" x="864" y="205">Élysées <tspan class="i">53m</tspan></text>
<use href="#ist" x="24" y="152"/>
<use href="#ifi" x="1242" y="150"/>
<use href="#ih" x="289" y="155"/><text class="nm" x="289" y="164">4</text>
<use href="#is" x="834" y="157"/>
<use href="#cyc" x="36" y="237"/>
<text class="k" x="15" y="452">km</text>
<text class="k c" x="284" y="452">31</text><text class="k c" x="830" y="452">91</text>
<text class="k e" x="1250" y="452">137.5</text>
<text class="s" x="0" y="491" textLength="192" lengthAdjust="spacingAndGlyphs">Source: Le Tour</text>
<text class="s e" x="1265" y="491" textLength="238" lengthAdjust="spacingAndGlyphs">© GRAPHIC NEWS</text>
</g>
</svg>
</body></html>
